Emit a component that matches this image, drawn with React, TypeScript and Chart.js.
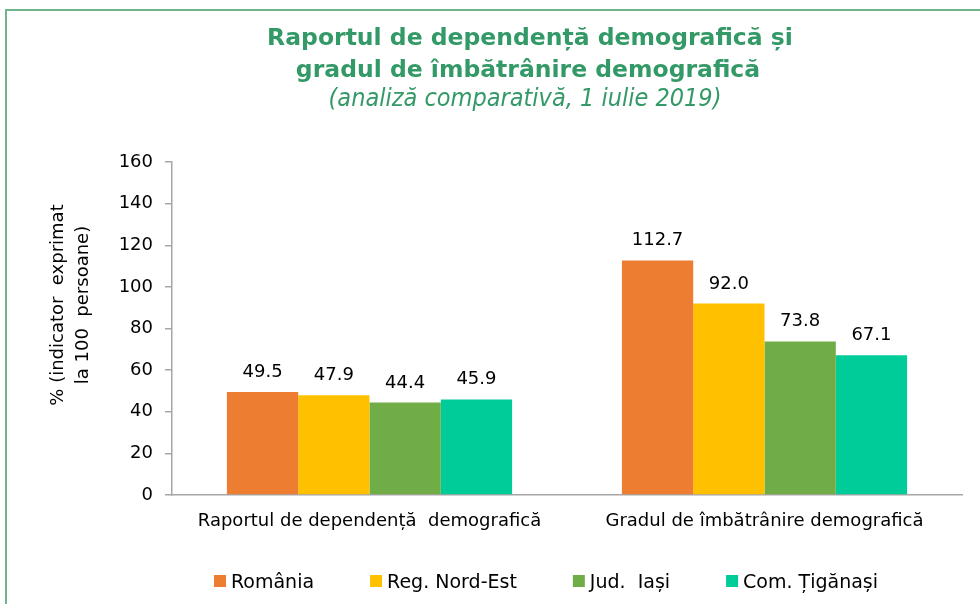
import React, { useEffect, useRef } from "react";
import { Chart, registerables } from "chart.js";

Chart.register(...registerables);

const categories = ["Raportul de dependență  demografică", "Gradul de îmbătrânire demografică"];
const seriesNames = ["România", "Reg. Nord-Est", "Jud.  Iași", "Com. Țigănași"];
const romania = [49.5, 112.7];
const nordEst = [47.9, 92.0];
const iasi = [44.4, 73.8];
const tiganasi = [45.9, 67.1];
const seriesValues = [romania, nordEst, iasi, tiganasi];
const seriesColors = ["#ED7D31", "#FFC000", "#70AD47", "#00CC99"];
const yMin = 0;
const yMax = 160;
const yStep = 20;
const titleLines = ["Raportul de dependență demografică și", "gradul de îmbătrânire demografică"];
const subtitleText = "(analiză comparativă, 1 iulie 2019)";
const yTitleLines = ["% (indicator  exprimat", "la 100  persoane)"];

const GREEN = "#339966";
const AXIS = "#A6A6A6";
const COND = "'DejaVu Sans Condensed', 'DejaVu Sans', sans-serif";
const SANS = "'DejaVu Sans', sans-serif";

const decorPlugin = {
  id: "decor",
  afterDatasetsDraw(chart: any) {
    const ctx = chart.ctx;
    ctx.save();
    ctx.fillStyle = "#000";
    ctx.font = `18px ${SANS}`;
    ctx.textAlign = "center";
    ctx.textBaseline = "alphabetic";
    chart.data.datasets.forEach((ds: any, i: number) => {
      const meta = chart.getDatasetMeta(i);
      meta.data.forEach((bar: any, j: number) => {
        ctx.fillText(Number(ds.data[j]).toFixed(1), bar.x, bar.y - 15);
      });
    });
    ctx.restore();
  },
  afterDraw(chart: any) {
    const ctx = chart.ctx;
    ctx.save();
    // Title
    ctx.fillStyle = GREEN;
    ctx.textAlign = "center";
    ctx.textBaseline = "alphabetic";
    ctx.font = `bold 23.5px ${SANS}`;
    ctx.fillText(titleLines[0], 530, 45);
    ctx.fillText(titleLines[1], 528, 77);
    ctx.font = `italic 25px ${COND}`;
    ctx.fillText(subtitleText, 525, 106);

    // Y axis title
    ctx.fillStyle = "#000";
    ctx.font = `18px ${SANS}`;
    ctx.textBaseline = "middle";
    ctx.translate(58, 305);
    ctx.rotate(-Math.PI / 2);
    ctx.fillText(yTitleLines[0], 0, 0);
    ctx.fillText(yTitleLines[1], 0, 25);
    ctx.setTransform(1, 0, 0, 1, 0, 0);

    // Legend
    ctx.font = `19px ${SANS}`;
    ctx.textAlign = "left";
    ctx.textBaseline = "alphabetic";
    const box = 12;
    const gapBoxText = 5;
    const gap = 56;
    const widths = seriesNames.map((n) => box + gapBoxText + ctx.measureText(n).width);
    const total = widths.reduce((a, b) => a + b, 0) + gap * (widths.length - 1);
    let x = 546 - total / 2;
    const y = 581;
    seriesNames.forEach((n, i) => {
      ctx.fillStyle = seriesColors[i];
      ctx.fillRect(x, y - box / 2, box, box);
      ctx.fillStyle = "#000";
      ctx.fillText(n, x + box + gapBoxText, y + 7);
      x += widths[i] + gap;
    });
    ctx.restore();
  },
};

export default function App() {
  const ref = useRef<HTMLCanvasElement | null>(null);
  useEffect(() => {
    if (!ref.current) return;
    const chart = new Chart(ref.current, {
      type: "bar",
      data: {
        labels: categories,
        datasets: seriesNames.map((name, i) => ({
          label: name,
          data: seriesValues[i],
          backgroundColor: seriesColors[i],
          borderWidth: 0,
          barPercentage: 1,
          categoryPercentage: 0.722,
        })),
      },
      options: {
        responsive: false,
        animation: false,
        devicePixelRatio: 1,
        layout: { padding: { top: 162, right: 18, bottom: 0, left: 0 } },
        plugins: {
          legend: { display: false },
          title: { display: false },
          tooltip: { enabled: false },
        },
        scales: {
          x: {
            grid: { display: false, drawTicks: false },
            border: { display: true, color: AXIS, width: 1.5 },
            ticks: {
              color: "#000",
              font: { family: SANS, size: 18 },
              padding: 16,
              maxRotation: 0,
              autoSkip: false,
            },
            afterFit(scale: any) {
              scale.height = 109;
            },
          },
          y: {
            min: yMin,
            max: yMax,
            grid: {
              display: true,
              drawOnChartArea: false,
              drawTicks: true,
              tickLength: 7,
              color: AXIS,
              lineWidth: 1.5,
            },
            border: { display: true, color: AXIS, width: 1.5 },
            ticks: {
              stepSize: yStep,
              color: "#000",
              font: { family: SANS, size: 18 },
              padding: 12,
            },
            afterFit(scale: any) {
              scale.width = 172;
            },
          },
        },
      },
      plugins: [decorPlugin],
    });
    return () => chart.destroy();
  }, []);

  return (
    <div
      style={{
        position: "fixed",
        left: 0,
        top: 0,
        width: 980,
        height: 604,
        overflow: "hidden",
        background: "#fff",
      }}
    >
      <div
        style={{
          position: "absolute",
          left: 5,
          top: 9,
          width: 1100,
          height: 800,
          border: "2px solid #6FB58C",
          boxSizing: "border-box",
          pointerEvents: "none",
        }}
      />
      <canvas ref={ref} width={980} height={604} style={{ position: "absolute", left: 0, top: 0 }} />
    </div>
  );
}
